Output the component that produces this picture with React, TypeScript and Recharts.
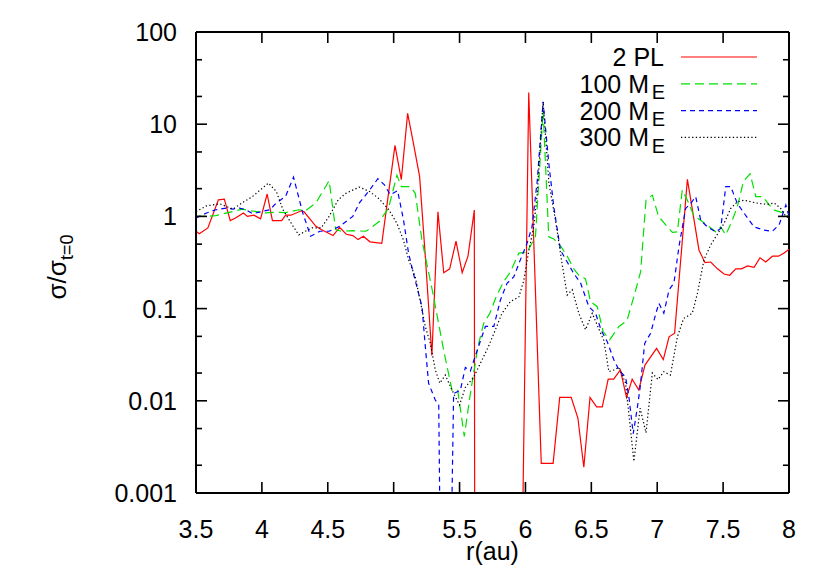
import { LineChart, Line, XAxis, YAxis, ReferenceLine } from "recharts";

// r (au) tick marks and sigma/sigma0 ticks
const R_TICKS = [3.5, 4, 4.5, 5, 5.5, 6, 6.5, 7, 7.5, 8];
const SIGMA_MAJOR = [0.001, 0.01, 0.1, 1, 10, 100];
const SIGMA_MINOR = [0.002, 0.005, 0.02, 0.05, 0.2, 0.5, 2, 5, 20, 50];

// empty cells: sigma drops to ~0, drawn below the log floor
const ZERO = 1e-6;

// [r, sigma/sigma0]
const twoPl: [number, number][] = [
  [3.5, 0.69], [3.525, 0.65], [3.59, 0.75], [3.67, 1.51], [3.715, 1.54], [3.76, 0.9],
  [3.8, 0.96], [3.86, 1.09], [3.89, 1.0], [3.94, 1.03], [3.99, 0.94], [4.04, 1.75],
  [4.08, 0.9], [4.15, 0.9], [4.18, 1.03], [4.22, 1.03], [4.3, 1.15], [4.32, 1.12],
  [4.41, 0.78], [4.45, 0.72], [4.54, 0.62], [4.59, 0.76], [4.64, 0.64], [4.69, 0.62],
  [4.73, 0.56], [4.77, 0.61], [4.82, 0.53], [4.91, 0.51], [5.01, 5.9], [5.058, 2.5],
  [5.106, 13.1], [5.15, 6.2], [5.197, 2.7], [5.24, 0.37], [5.29, 0.031], [5.336, 1.12],
  [5.38, 0.245], [5.425, 0.27], [5.473, 0.54], [5.52, 0.245], [5.564, 0.37], [5.612, 1.17],
  [5.617, ZERO], [5.952, ZERO], [6.025, 22], [6.12, 0.0021], [6.21, 0.0021], [6.26, 0.0109],
  [6.347, 0.0109], [6.398, 0.0065], [6.443, 0.0019], [6.49, 0.0109], [6.54, 0.0086],
  [6.583, 0.0086], [6.628, 0.0172], [6.67, 0.0172], [6.72, 0.0216], [6.767, 0.0109],
  [6.81, 0.0172], [6.86, 0.0131], [6.907, 0.0244], [6.995, 0.037], [7.046, 0.028],
  [7.09, 0.0495], [7.132, 0.054], [7.229, 2.52], [7.317, 0.43], [7.363, 0.315],
  [7.406, 0.32], [7.457, 0.27], [7.507, 0.237], [7.55, 0.23], [7.596, 0.27], [7.64, 0.27],
  [7.685, 0.29], [7.735, 0.28], [7.78, 0.356], [7.824, 0.32], [7.874, 0.37], [7.92, 0.37],
  [7.963, 0.4], [8.0, 0.44],
];

const me100: [number, number][] = [
  [3.5, 1.0], [3.58, 1.0], [3.65, 1.02], [3.78, 1.13], [3.855, 1.2], [3.9, 1.16],
  [4.03, 1.09], [4.11, 1.11], [4.18, 1.1], [4.28, 1.18], [4.33, 1.15], [4.41, 1.4],
  [4.51, 2.44], [4.56, 0.72], [4.6, 0.69], [4.69, 0.7], [4.79, 0.69], [4.822, 0.74],
  [4.89, 0.88], [4.96, 1.22], [5.025, 2.8], [5.058, 2.1], [5.126, 2.1], [5.164, 1.78],
  [5.215, 0.55], [5.298, 0.146], [5.38, 0.035], [5.443, 0.013], [5.486, 0.013],
  [5.536, 0.0041], [5.582, 0.012], [5.64, 0.039], [5.683, 0.069], [5.73, 0.089],
  [5.78, 0.137], [5.835, 0.196], [5.886, 0.25], [5.95, 0.4], [6.012, 0.41], [6.076, 0.6],
  [6.134, 14], [6.177, 0.6], [6.215, 0.57], [6.27, 0.47], [6.317, 0.37], [6.367, 0.27],
  [6.405, 0.23], [6.456, 0.21], [6.494, 0.119], [6.545, 0.105], [6.59, 0.056],
  [6.64, 0.046], [6.71, 0.064], [6.77, 0.074], [6.823, 0.135], [6.874, 0.25],
  [6.915, 1.5], [6.963, 1.7], [7.01, 1.0], [7.077, 0.77], [7.115, 0.67], [7.153, 0.68],
  [7.19, 1.93], [7.229, 1.5], [7.28, 1.0], [7.33, 0.91], [7.444, 0.68], [7.482, 0.77],
  [7.52, 0.63], [7.57, 0.91], [7.608, 1.27], [7.654, 2.4], [7.705, 2.9], [7.748, 1.64],
  [7.8, 1.64], [7.85, 1.33], [7.888, 1.17], [7.95, 1.1], [8.0, 0.99],
];

const me200: [number, number][] = [
  [3.5, 0.96], [3.58, 1.09], [3.65, 1.18], [3.73, 1.23], [3.78, 1.2], [3.83, 1.23],
  [3.88, 1.18], [3.93, 1.07], [4.0, 1.13], [4.06, 1.18], [4.11, 1.4], [4.18, 1.65],
  [4.24, 2.67], [4.31, 1.09], [4.37, 0.61], [4.44, 0.69], [4.51, 0.69], [4.59, 0.78],
  [4.69, 1.0], [4.74, 1.4], [4.82, 1.95], [4.88, 2.56], [4.93, 2.2], [4.974, 1.72],
  [5.03, 1.9], [5.075, 0.91], [5.113, 0.4], [5.15, 0.24], [5.215, 0.105], [5.24, 0.039],
  [5.265, 0.0155], [5.316, 0.0102], [5.342, 0.009], [5.371, ZERO], [5.41, ZERO],
  [5.455, 0.012], [5.506, 0.013], [5.544, 0.023], [5.582, 0.021], [5.633, 0.035],
  [5.696, 0.064], [5.76, 0.064], [5.81, 0.124], [5.86, 0.188], [5.911, 0.22],
  [5.962, 0.34], [6.012, 0.51], [6.05, 0.77], [6.09, 2.48], [6.134, 17.5], [6.177, 3.8],
  [6.215, 1.27], [6.266, 0.43], [6.317, 0.32], [6.367, 0.24], [6.418, 0.19],
  [6.481, 0.105], [6.532, 0.089], [6.575, 0.058], [6.62, 0.044], [6.67, 0.028],
  [6.71, 0.0216], [6.76, 0.018], [6.785, 0.011], [6.818, 0.0044], [6.85, 0.0086],
  [6.87, 0.0138], [6.905, 0.042], [6.95, 0.054], [6.99, 0.089], [7.013, 0.114],
  [7.05, 0.089], [7.09, 0.16], [7.127, 0.19], [7.165, 0.47], [7.216, 1.22], [7.254, 1.38],
  [7.292, 1.64], [7.33, 0.91], [7.38, 0.77], [7.444, 0.68], [7.482, 0.74], [7.52, 2.1],
  [7.558, 2.1], [7.608, 1.38], [7.66, 1.08], [7.735, 0.77], [7.81, 0.71], [7.874, 0.69],
  [7.925, 0.81], [7.976, 1.33], [8.0, 1.0],
];

const me300: [number, number][] = [
  [3.5, 1.13], [3.58, 1.3], [3.68, 1.37], [3.78, 1.2], [3.85, 1.4], [3.93, 1.65],
  [3.99, 1.95], [4.05, 2.3], [4.11, 1.86], [4.16, 1.18], [4.23, 0.81], [4.28, 0.63],
  [4.33, 0.69], [4.38, 0.75], [4.45, 0.75], [4.51, 1.0], [4.58, 1.52], [4.64, 1.79],
  [4.74, 2.08], [4.82, 1.85], [4.89, 1.55], [4.92, 1.38], [4.96, 1.2], [5.025, 0.84],
  [5.075, 0.55], [5.113, 0.34], [5.164, 0.22], [5.2, 0.124], [5.24, 0.064],
  [5.278, 0.042], [5.316, 0.0216], [5.35, 0.0155], [5.392, 0.019], [5.443, 0.013],
  [5.5, 0.009], [5.544, 0.014], [5.607, 0.018], [5.658, 0.0255], [5.72, 0.039],
  [5.772, 0.059], [5.822, 0.089], [5.886, 0.119], [5.95, 0.134], [5.987, 0.2],
  [6.025, 0.42], [6.063, 0.77], [6.09, 1.78], [6.134, 17.5], [6.178, 2.3], [6.228, 0.91],
  [6.279, 0.3], [6.317, 0.14], [6.355, 0.16], [6.405, 0.089], [6.456, 0.059],
  [6.507, 0.089], [6.557, 0.06], [6.595, 0.045], [6.633, 0.0207], [6.67, 0.0216],
  [6.71, 0.023], [6.76, 0.0155], [6.823, 0.0022], [6.87, 0.0083], [6.915, 0.0045],
  [6.963, 0.02], [7.006, 0.017], [7.05, 0.0207], [7.1, 0.019], [7.153, 0.0495],
  [7.2, 0.078], [7.266, 0.089], [7.305, 0.146], [7.355, 0.34], [7.406, 0.49],
  [7.444, 0.6], [7.507, 0.84], [7.558, 1.22], [7.608, 1.44], [7.66, 1.5], [7.71, 1.44],
  [7.773, 1.38], [7.836, 1.35], [7.887, 1.4], [7.937, 1.22], [7.976, 1.0], [8.0, 0.96],
];

const SERIES = [
  { name: "2 PL", sub: "", pts: twoPl, color: "#ff0000", dash: undefined },
  { name: "100 M", sub: "E", pts: me100, color: "#00e000", dash: "9 5" },
  { name: "200 M", sub: "E", pts: me200, color: "#0000ff", dash: "5 4" },
  { name: "300 M", sub: "E", pts: me300, color: "#000000", dash: "1.3 2.4" },
];

const W = 830;
const H = 581;
const LEFT = 196;
const RIGHT = 789;
const TOP = 32;
const BOTTOM = 493;
const FONT = "'Liberation Sans', Arial, Helvetica, sans-serif";
const FS = 25;

const toRows = (pts: [number, number][]) => pts.map(([r, s]) => ({ r, s }));

const XTick = (props: any) => {
  const { x, payload } = props;
  return (
    <g>
      <line x1={x} x2={x} y1={BOTTOM} y2={BOTTOM - 11} stroke="#000" strokeWidth={1.6} />
      <line x1={x} x2={x} y1={TOP} y2={TOP + 11} stroke="#000" strokeWidth={1.6} />
      <text x={x} y={BOTTOM + 45} textAnchor="middle" fontFamily={FONT} fontSize={FS} fill="#000">
        {payload.value}
      </text>
    </g>
  );
};

const YTick = (props: any) => {
  const { y, payload } = props;
  const major = SIGMA_MAJOR.includes(payload.value);
  const len = major ? 11 : 6;
  return (
    <g>
      <line x1={LEFT} x2={LEFT + len} y1={y} y2={y} stroke="#000" strokeWidth={1.6} />
      <line x1={RIGHT} x2={RIGHT - len} y1={y} y2={y} stroke="#000" strokeWidth={1.6} />
      {major && (
        <text x={177} y={y} dy="0.36em" textAnchor="end" fontFamily={FONT} fontSize={FS} fill="#000">
          {String(payload.value)}
        </text>
      )}
    </g>
  );
};

export default function App() {
  return (
    <div style={{ position: "absolute", left: 0, top: 0, width: W, height: H, background: "#fff" }}>
      <LineChart width={W} height={H} margin={{ top: TOP, right: W - RIGHT, bottom: 0, left: 0 }}>
        <XAxis
          type="number"
          dataKey="r"
          domain={[3.5, 8]}
          ticks={R_TICKS}
          interval={0}
          allowDataOverflow
          height={H - BOTTOM}
          tickLine={false}
          axisLine={{ stroke: "#000", strokeWidth: 2 }}
          tick={<XTick />}
        />
        <YAxis
          type="number"
          scale="log"
          domain={[0.001, 100]}
          ticks={[...SIGMA_MAJOR, ...SIGMA_MINOR].sort((a, b) => a - b)}
          interval={0}
          allowDataOverflow
          width={LEFT}
          tickLine={false}
          axisLine={{ stroke: "#000", strokeWidth: 2 }}
          tick={<YTick />}
        />
        <ReferenceLine y={100} stroke="#000" strokeWidth={2} />
        <ReferenceLine x={8} stroke="#000" strokeWidth={2} />
        {SERIES.map((s) => (
          <Line
            key={s.name}
            data={toRows(s.pts)}
            dataKey="s"
            type="linear"
            stroke={s.color}
            strokeWidth={1.2}
            strokeDasharray={s.dash}
            dot={false}
            activeDot={false}
            isAnimationActive={false}
          />
        ))}
      </LineChart>
      <svg
        width={W}
        height={H}
        style={{ position: "absolute", left: 0, top: 0, pointerEvents: "none" }}
      >
        {SERIES.map((s, i) => {
          const y = 57 + i * 26.8;
          return (
            <g key={s.name}>
              <text x={s.sub ? 649 : 664} y={y} dy="0.36em" textAnchor="end" fontFamily={FONT} fontSize={FS}>
                {s.name}
              </text>
              {s.sub && (
                <text x={665} y={y + 8} dy="0.36em" textAnchor="end" fontFamily={FONT} fontSize={20}>
                  {s.sub}
                </text>
              )}
              <line x1={681} x2={757} y1={y} y2={y} stroke={s.color} strokeWidth={1.2} strokeDasharray={s.dash} />
            </g>
          );
        })}
        <text x={(LEFT + RIGHT) / 2} y={551} dy="0.36em" textAnchor="middle" fontFamily={FONT} fontSize={FS}>
          r(au)
        </text>
        <text
          transform="translate(57,267) rotate(-90)"
          textAnchor="middle"
          fontFamily={FONT}
          fontSize={26}
          dy="0.36em"
        >
          σ/σ
          <tspan fontSize={18} dy={7}>t=0</tspan>
        </text>
      </svg>
    </div>
  );
}
